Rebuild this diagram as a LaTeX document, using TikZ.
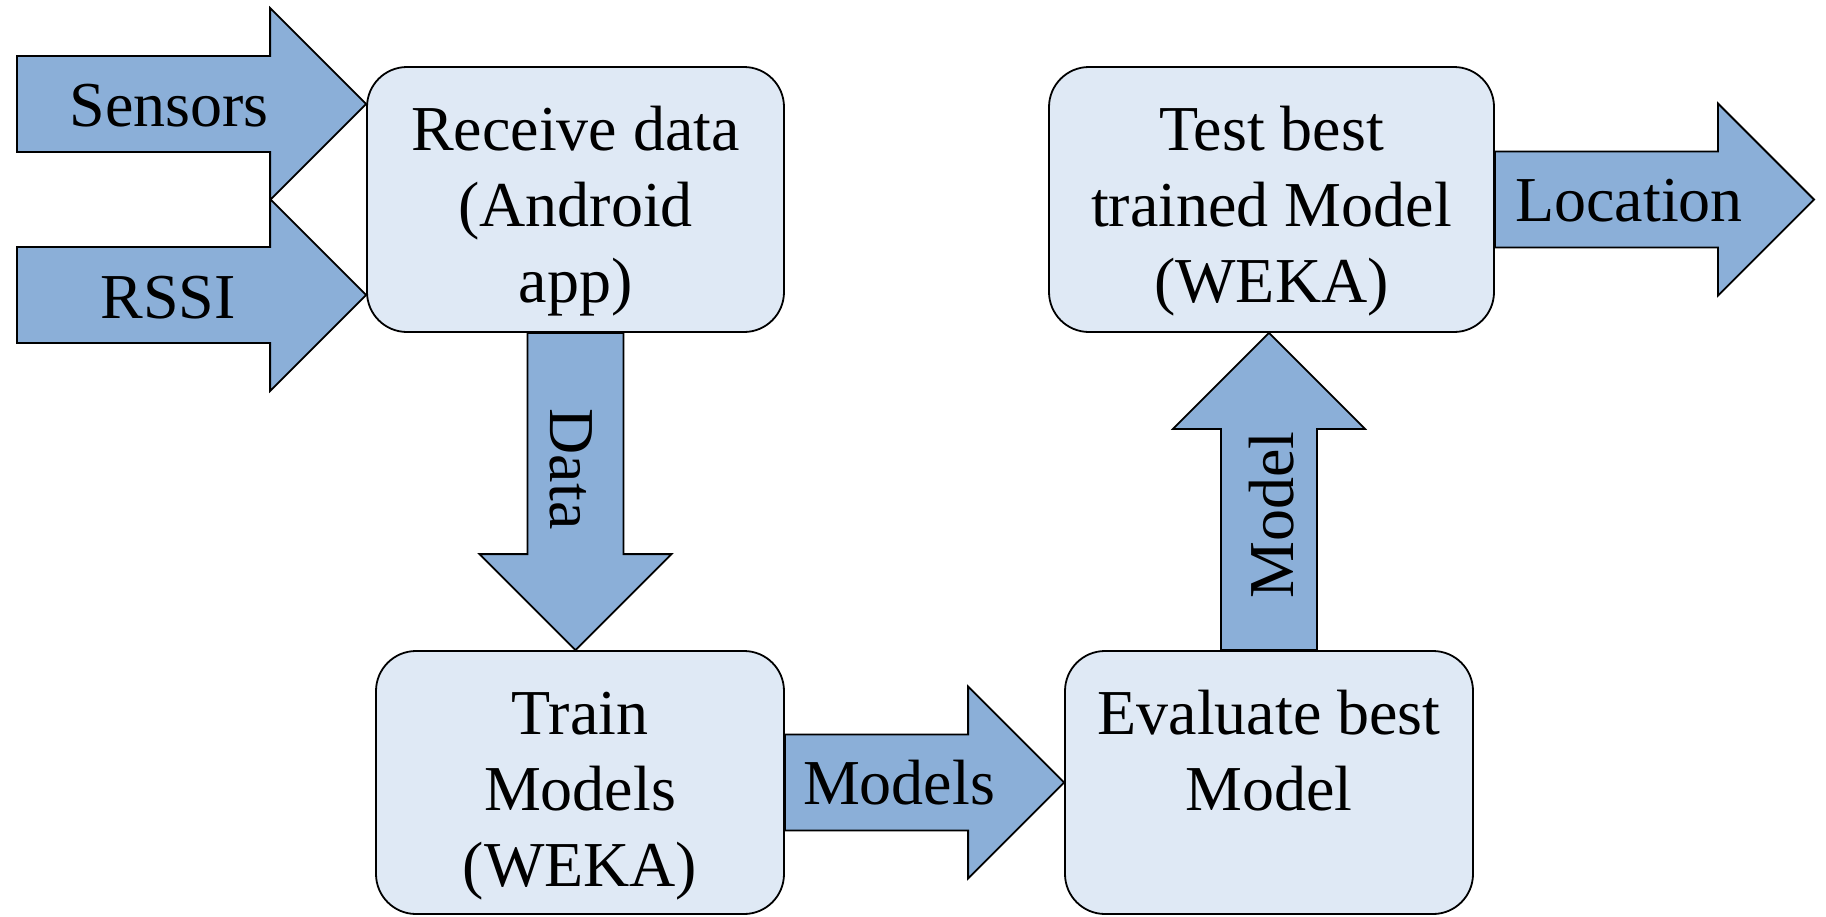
\documentclass[tikz,border=0pt]{standalone}
\usepackage{fontspec}
\setmainfont{Liberation Serif}
\usetikzlibrary{calc}
\definecolor{arrowfill}{RGB}{139,175,216}
\definecolor{boxfill}{RGB}{223,233,245}
\newcommand\boxtext[3]{\begin{minipage}[c][#2][t]{#1}\centering\rule{0pt}{41.5pt}#3\end{minipage}}
\newcommand\rarrow[2]{\draw[blockarrow] ($(#1)+(0,-48)$) -- ($(#2)+(-96,-48)$) -- ($(#2)+(-96,-96)$) -- (#2) -- ($(#2)+(-96,96)$) -- ($(#2)+(-96,48)$) -- ($(#1)+(0,48)$) -- cycle;}
\newcommand\darrow[2]{\draw[blockarrow] ($(#1)+(-48,0)$) -- ($(#2)+(-48,-96)$) -- ($(#2)+(-96,-96)$) -- (#2) -- ($(#2)+(96,-96)$) -- ($(#2)+(48,-96)$) -- ($(#1)+(48,0)$) -- cycle;}
\newcommand\uarrow[2]{\draw[blockarrow] ($(#1)+(-48,0)$) -- ($(#2)+(-48,96)$) -- ($(#2)+(-96,96)$) -- (#2) -- ($(#2)+(96,96)$) -- ($(#2)+(48,96)$) -- ($(#1)+(48,0)$) -- cycle;}
\begin{document}
\begin{tikzpicture}[x=0.5pt,y=-0.5pt,
  every node/.style={font=\fontsize{32}{38}\selectfont},
  box/.style={draw=black, fill=boxfill, line width=0.9pt, rounded corners=20pt, inner sep=0pt},
  blockarrow/.style={draw=black, fill=arrowfill, line width=0.9pt, line join=miter},
  lbl/.style={anchor=base, inner sep=0pt}]
\useasboundingbox (0,0) rectangle (1826,916);
\node[box] (rcv) at (575.5,199.5) {\boxtext{208.5pt}{132.5pt}{Receive data\\(Android\\app)}};
\node[box] (trn) at (580,782.5) {\boxtext{204pt}{131.5pt}{Train\\Models\\(WEKA)}};
\node[box] (evl) at (1269,782.5) {\boxtext{204pt}{131.5pt}{Evaluate best\\Model}};
\node[box] (tst) at (1271.5,199.5) {\boxtext{222.5pt}{132.5pt}{Test best\\trained Model\\(WEKA)}};
\coordinate (sTail) at (17,104);
\coordinate (rTail) at (17,295);
\coordinate (sTip) at (sTail -| rcv.west);
\coordinate (rTip) at (rTail -| rcv.west);
\coordinate (dTip) at (rcv.south |- trn.north);
\coordinate (mTip) at (evl.north |- tst.south);
\coordinate (locTip) at (1814,199.5);
\rarrow{sTail}{sTip}
\rarrow{rTail}{rTip}
\darrow{rcv.south}{dTip}
\rarrow{trn.east}{evl.west}
\uarrow{evl.north}{mTip}
\rarrow{tst.east}{locTip}
\node[lbl] (tSens) at (169,126) {Sensors};
\node[lbl] (tRssi) at (168,318) {RSSI};
\node[lbl] (tModels) at (899,804) {Models};
\node[lbl] (tLoc) at (1629,221) {Location};
\node[lbl, rotate=-90] (tData) at (550,469) {Data};
\node[lbl, rotate=90] (tModel) at (1293,515) {Model};
\end{tikzpicture}
\end{document}
